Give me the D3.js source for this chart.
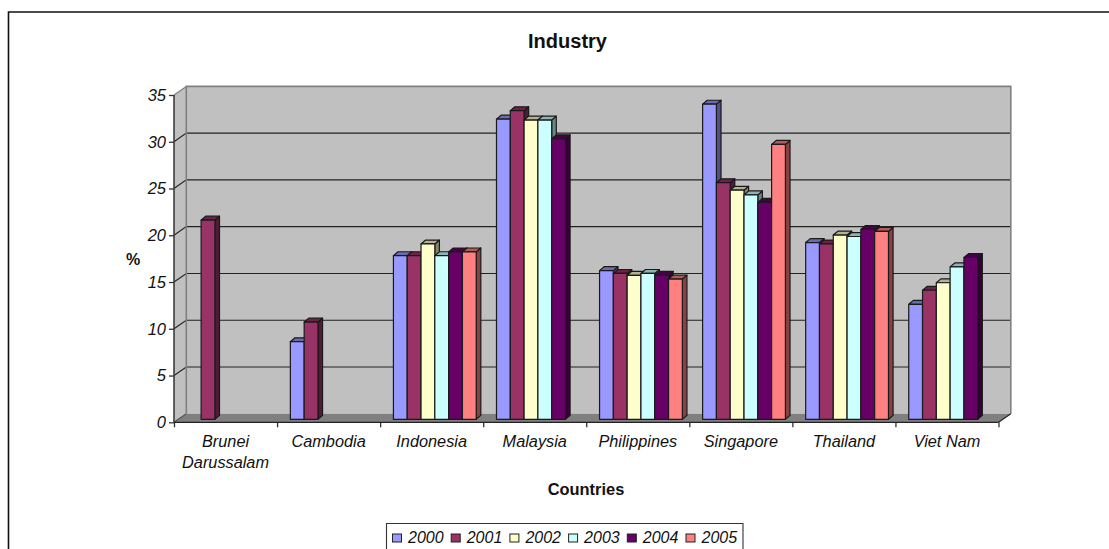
<!DOCTYPE html>
<html><head><meta charset="utf-8">
<script src="https://cdn.jsdelivr.net/npm/d3@7"></script>
<style>
html,body{margin:0;padding:0;background:#fff;overflow:hidden}
svg{display:block}
text{font-family:"Liberation Sans",Arial,sans-serif;fill:#111}
</style></head><body>
<svg id="c" width="1109" height="549"></svg>
<script>
const countries=[["Brunei","Darussalam"],["Cambodia"],["Indonesia"],["Malaysia"],["Philippines"],["Singapore"],["Thailand"],["Viet Nam"]];
const years=["2000","2001","2002","2003","2004","2005"];
const colors=["#9999ff","#993366","#ffffcc","#ccffff","#660066","#ff8080"];
const v2000=[null,8.3,17.5,32.1,15.9,33.7,18.9,12.3];
const v2001=[21.3,10.4,17.5,33.0,15.6,25.3,18.75,13.8];
const v2002=[null,null,18.75,32.0,15.4,24.5,19.7,14.6];
const v2003=[null,null,17.5,32.0,15.6,24.0,19.55,16.3];
const v2004=[null,null,17.9,30.0,15.4,23.2,20.3,17.3];
const v2005=[null,null,17.9,null,15.0,29.4,20.1,null];
const series=[v2000,v2001,v2002,v2003,v2004,v2005];
const yTicks=[0,5,10,15,20,25,30,35];

const svg=d3.select("#c");
const L=174,R=998.5,B=422.3,T=95,DX=12.3,DY=-8.6;
const y=d3.scaleLinear().domain([0,35]).range([B,T]);
const xi=d3.scaleLinear().domain([0,countries.length]).range([L,R]);
const band=d3.scaleBand().domain(d3.range(countries.length)).range([L,R]);
const inner=d3.scaleBand().domain(years).range([13.3,13.3+6*13.8]);
const barDX=4.6,barDY=-3.9,lift=3;

// frame
svg.append("path").attr("d",d3.line()([[8.5,549],[8.5,12],[1109,12]])).attr("fill","none").attr("stroke","#111").attr("stroke-width",1.6);

// walls
const poly=(pts,f,s,w)=>svg.append("polygon").attr("points",pts.map(p=>p.join(",")).join(" ")).attr("fill",f).attr("stroke",s||"none").attr("stroke-width",w||0);
poly([[L+DX,T+DY],[R+DX,T+DY],[R+DX,B+DY],[L+DX,B+DY]],"#c0c0c0");
poly([[L,T],[L+DX,T+DY],[L+DX,B+DY],[L,B]],"#c0c0c0");
poly([[L,B],[L+DX,B+DY],[R+DX,B+DY],[R,B]],"#808080");

// gridlines on back and side walls
svg.append("g").selectAll("path").data(yTicks.filter(d=>d>0&&d<35)).join("path")
 .attr("d",d=>d3.line()([[L,y(d)],[L+DX,y(d)+DY],[R+DX,y(d)+DY]]))
 .attr("fill","none").attr("stroke","#222").attr("stroke-width",1.1);
svg.append("path").attr("d",d3.line()([[L+DX,B+DY],[L+DX,T+DY],[R+DX,T+DY],[R+DX,B+DY]])).attr("fill","none").attr("stroke","#808080").attr("stroke-width",1.6);
svg.append("path").attr("d",d3.line()([[L,T],[L+DX,T+DY]])).attr("stroke","#808080").attr("stroke-width",1.2);
svg.append("path").attr("d",d3.line()([[R,B],[R+DX,B+DY]])).attr("stroke","#222").attr("stroke-width",1.2);
svg.append("path").attr("d",d3.line()([[L,B],[L+DX,B+DY]])).attr("stroke","#555").attr("stroke-width",1.2);

// bars
const edge="#1a1a1a";
const rows=[];
countries.forEach((c,ci)=>series.forEach((s,si)=>{if(s[ci]!=null)rows.push({ci,si,v:s[ci]});}));
const g=svg.append("g").attr("stroke",edge).attr("stroke-width",1.2).attr("stroke-linejoin","round");
rows.forEach(r=>{
 const x0=band(r.ci)+inner(years[r.si]),x1=x0+inner.bandwidth();
 const yt=y(r.v)-lift,yb=y(0)-lift,c=colors[r.si];
 const pts=a=>a.map(p=>p.join(",")).join(" ");
 g.append("polygon").attr("fill",d3.rgb(c).darker(1.8).formatHex()).attr("points",pts([[x1,yt],[x1+barDX,yt+barDY],[x1+barDX,yb+barDY],[x1,yb]]));
 g.append("polygon").attr("fill",d3.rgb(c).darker(1).formatHex()).attr("points",pts([[x0,yt],[x0+barDX,yt+barDY],[x1+barDX,yt+barDY],[x1,yt]]));
 g.append("rect").attr("x",x0).attr("y",yt).attr("width",x1-x0).attr("height",yb-yt).attr("fill",c);
});

// axes
const yAxis=d3.axisLeft(y).tickValues(yTicks).tickSize(5).tickPadding(3).tickFormat(d3.format("d"));
const ya=svg.append("g").attr("transform",`translate(${L},0)`).call(yAxis);
const xAxis=d3.axisBottom(xi).tickValues(d3.range(countries.length+1)).tickSize(5).tickFormat("");
const xa=svg.append("g").attr("transform",`translate(0,${B})`).call(xAxis);
[ya,xa].forEach(a=>{a.selectAll("path,line").attr("stroke","#333").attr("stroke-width",1.3);a.select(".domain").attr("d",null);});
ya.append("line").attr("y1",T).attr("y2",B).attr("stroke","#333").attr("stroke-width",1.5);
xa.append("line").attr("x1",L).attr("x2",R).attr("stroke","#222").attr("stroke-width",1.3);
ya.selectAll("text").attr("font-size",16.5).attr("font-style","italic").attr("font-family",'"Liberation Sans"').attr("fill","#111");

// category labels
const cl=svg.append("g").attr("text-anchor","middle").attr("font-size",16.3).attr("font-style","italic");
countries.forEach((lines,i)=>lines.forEach((t,j)=>cl.append("text").attr("x",band(i)+band.bandwidth()/2).attr("y",447+j*21).text(t)));

// titles
svg.append("text").attr("x",567.5).attr("y",47.5).attr("text-anchor","middle").attr("font-size",20).attr("font-weight","bold").text("Industry");
svg.append("text").attr("x",586).attr("y",495).attr("text-anchor","middle").attr("font-size",16.4).attr("font-weight","bold").text("Countries");
svg.append("text").attr("x",133).attr("y",265).attr("text-anchor","middle").attr("font-size",16).attr("font-weight","bold").text("%");

// legend
svg.append("path").attr("d",d3.line()([[386.5,549],[386.5,523.5],[743,523.5],[743,549]])).attr("fill","#fff").attr("stroke","#333").attr("stroke-width",1.1);
const lx=d3.scaleBand().domain(years).range([392,392+6*58.7]);
const lg=svg.append("g").selectAll("g").data(years).join("g").attr("transform",d=>`translate(${lx(d)},0)`);
lg.append("rect").attr("x",0.5).attr("y",534).attr("width",9).attr("height",8).attr("fill",(d,i)=>colors[i]).attr("stroke","#222").attr("stroke-width",1);
lg.append("text").attr("x",16).attr("y",543).attr("font-size",16).attr("font-style","italic").text(d=>d);
</script>
</body></html>
